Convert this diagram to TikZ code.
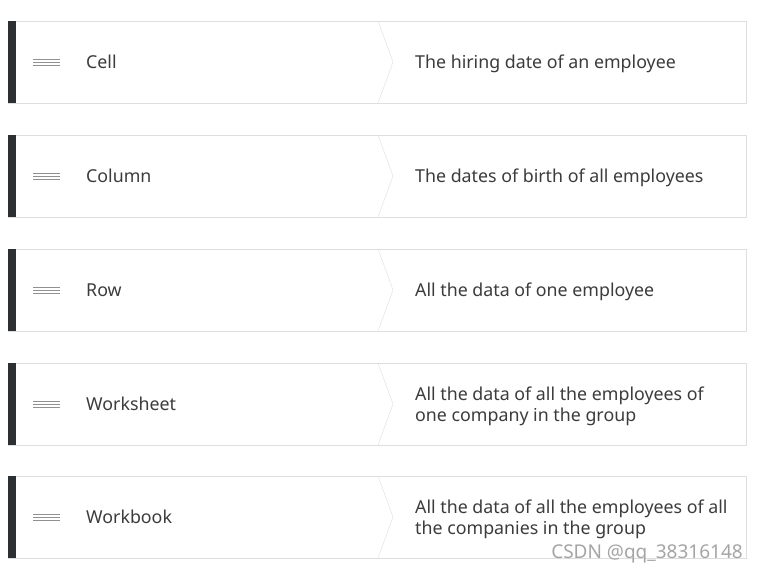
\documentclass[tikz,border=0pt]{standalone}
\usepackage{fontspec}
\setmainfont{Noto Sans}
\usepackage{xcolor}
\definecolor{rowedge}{RGB}{222,222,222}
\definecolor{rowbar}{RGB}{45,48,51}
\definecolor{rowtext}{RGB}{60,60,60}
\definecolor{handlegray}{RGB}{145,145,145}
\definecolor{markgray}{RGB}{165,165,165}

\begin{document}
\begin{tikzpicture}[x=1pt, y=-1pt,
    rowlabel/.style={anchor=west, inner sep=0pt, text=rowtext, font=\fontsize{17.8}{21}\selectfont},
    rowdesc/.style={rowlabel, align=left}]
    \useasboundingbox (0,0) rectangle (757,573);

    % one row per term
    \foreach \i/\top/\term/\desc in {
        1/21/Cell/{The hiring date of an employee},
        2/135/Column/{The dates of birth of all employees},
        3/249/Row/{All the data of one employee},
        4/363/Worksheet/{All the data of all the employees of\\one company in the group},
        5/476/Workbook/{All the data of all the employees of all\\the companies in the group}} {
        \draw[rowedge, fill=white] (8,\top) rectangle (746,\top+82);
        \fill[rowbar] (8,\top) rectangle (16,\top+82);
        \draw[rowedge] (378,\top) -- (393,\top+41) -- (378,\top+82);
        % drag handle
        \foreach \d in {-3,0,3}
            \draw[handlegray, line width=0.8pt] (33,\top+41+\d) -- (60,\top+41+\d);
        \node[rowlabel] (lbl\i) at (86,\top+41) {\term};
        \node[rowdesc] (desc\i) at (415,\top+43) {\desc};
    }

    % watermark
    \node[anchor=east, inner sep=0pt, text=markgray, font=\fontsize{19}{21}\selectfont] (mark) at (743,554) {CSDN @qq\_38316148};
\end{tikzpicture}
\end{document}
